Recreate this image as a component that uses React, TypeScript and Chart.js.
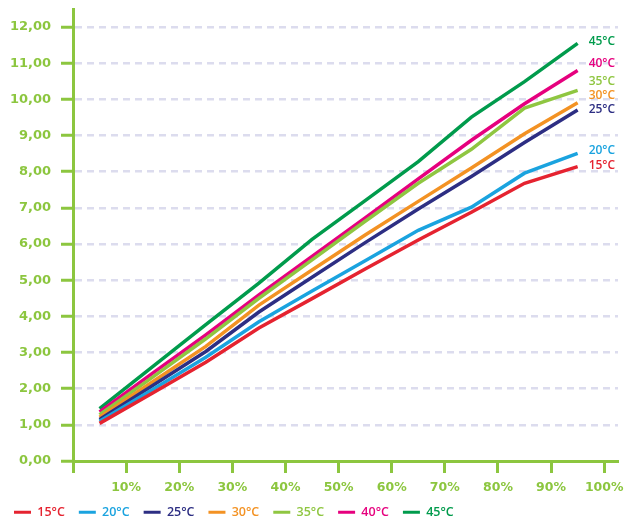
import React, { useEffect, useRef } from "react";
import { Chart, registerables } from "chart.js";

Chart.register(...registerables);

const PERCENTS = [5, 15, 25, 35, 45, 55, 65, 75, 85, 95];
const SERIES_LABELS = ["15°C", "20°C", "25°C", "30°C", "35°C", "40°C", "45°C"];
const T15 = [1.04, 1.88, 2.73, 3.68, 4.49, 5.31, 6.11, 6.88, 7.68, 8.14];
const T20 = [1.1, 1.98, 2.87, 3.85, 4.7, 5.54, 6.38, 7.02, 7.96, 8.51];
const T25 = [1.15, 2.09, 3.03, 4.12, 5.08, 6.04, 6.97, 7.87, 8.81, 9.71];
const T30 = [1.21, 2.19, 3.17, 4.31, 5.28, 6.25, 7.18, 8.1, 9.05, 9.91];
const T35 = [1.28, 2.32, 3.38, 4.5, 5.56, 6.63, 7.68, 8.62, 9.76, 10.25];
const T40 = [1.36, 2.43, 3.49, 4.59, 5.66, 6.72, 7.8, 8.87, 9.88, 10.8];
const T45 = [1.45, 2.61, 3.77, 4.92, 6.13, 7.2, 8.28, 9.51, 10.49, 11.55];
const SERIES_VALUES = [T15, T20, T25, T30, T35, T40, T45];

const COLORS = ["#e52330", "#1aa3df", "#2d2e83", "#f39223", "#8fc641", "#e6007e", "#009b4c"];
const END_LABEL_DY = [-1, -3, 0, -7, -9, -7, -2];
const AXIS_GREEN = "#8cc63f";
const GRID_LAVENDER = "#dcdcee";

const endLabelsPlugin = {
  id: "endLabels",
  afterDatasetsDraw(chart: any) {
    const ctx = chart.ctx;
    ctx.save();
    ctx.font = "600 12px 'Open Sans'";
    ctx.textAlign = "left";
    ctx.textBaseline = "middle";
    chart.data.datasets.forEach((ds: any, i: number) => {
      const meta = chart.getDatasetMeta(i);
      const pts = meta.data;
      if (!pts || !pts.length) return;
      const last = pts[pts.length - 1];
      ctx.fillStyle = ds.borderColor;
      ctx.fillText(ds.label, last.x + 11, last.y + END_LABEL_DY[i]);
    });
    ctx.restore();
  },
};

export default function App() {
  const canvasRef = useRef<HTMLCanvasElement | null>(null);

  useEffect(() => {
    const canvas = canvasRef.current;
    if (!canvas) return;
    const datasets = SERIES_LABELS.map((label, i) => ({
      label,
      data: PERCENTS.map((p, j) => ({ x: p, y: SERIES_VALUES[i][j] })),
      borderColor: COLORS[i],
      backgroundColor: COLORS[i],
      borderWidth: 3.5,
      pointRadius: 0,
      tension: 0,
      fill: false,
    }));

    const chart = new Chart(canvas, {
      type: "line",
      data: { datasets },
      plugins: [endLabelsPlugin],
      options: {
        animation: false,
        responsive: false,
        layout: { padding: { top: 9, right: 8, bottom: 0, left: 0 } },
        plugins: {
          tooltip: { enabled: false },
          legend: {
            display: true,
            position: "bottom",
            align: "start",
            maxHeight: 27,
            labels: {
              boxWidth: 17,
              boxHeight: 3,
              padding: 14,
              font: { family: "'Open Sans'", size: 12.5, weight: "600" },
              generateLabels: (ch: any) => {
                const items = Chart.defaults.plugins.legend.labels.generateLabels(ch);
                return items.map((it: any, i: number) => ({
                  ...it,
                  fillStyle: COLORS[i],
                  strokeStyle: COLORS[i],
                  lineWidth: 0,
                  fontColor: COLORS[i],
                }));
              },
            },
          },
        },
        scales: {
          x: {
            type: "linear",
            min: 0,
            max: 102.6,
            afterFit: (scale: any) => {
              scale.height = 31;
              scale.paddingLeft = 0;
              scale.paddingRight = 0;
            },
            ticks: {
              stepSize: 10,
              includeBounds: false,
              padding: 7,
              color: AXIS_GREEN,
              font: { family: "'DejaVu Sans'", size: 12.5, weight: "bold" },
              maxRotation: 0,
              callback: (v: any) => (Number(v) === 0 ? "" : `${v}%`),
            },
            grid: {
              drawOnChartArea: false,
              drawTicks: true,
              tickLength: 12,
              tickWidth: 3,
              tickColor: AXIS_GREEN,
            },
            border: { display: true, color: AXIS_GREEN, width: 3 },
          },
          y: {
            type: "linear",
            min: 0,
            max: 12.5,
            afterFit: (scale: any) => {
              scale.width = 73;
              scale.paddingTop = 0;
              scale.paddingBottom = 0;
            },
            ticks: {
              stepSize: 1,
              includeBounds: false,
              padding: 10,
              color: AXIS_GREEN,
              font: { family: "'DejaVu Sans'", size: 13, weight: "bold" },
              callback: (v: any) => Number(v).toFixed(2).replace(".", ","),
            },
            grid: {
              drawOnChartArea: true,
              drawTicks: true,
              tickLength: 12,
              tickWidth: 3,
              tickColor: AXIS_GREEN,
              lineWidth: 2.5,
              color: (c: any) => (c.tick && c.tick.value === 0 ? "rgba(0,0,0,0)" : GRID_LAVENDER),
            },
            border: { display: true, color: AXIS_GREEN, width: 3, dash: [7, 5] },
          },
        },
      },
    } as any);

    return () => chart.destroy();
  }, []);

  return (
    <div style={{ position: "fixed", left: 0, top: 0, width: 626, height: 519, background: "#fff" }}>
      <canvas ref={canvasRef} width={626} height={519} style={{ display: "block", width: 626, height: 519 }} />
    </div>
  );
}
